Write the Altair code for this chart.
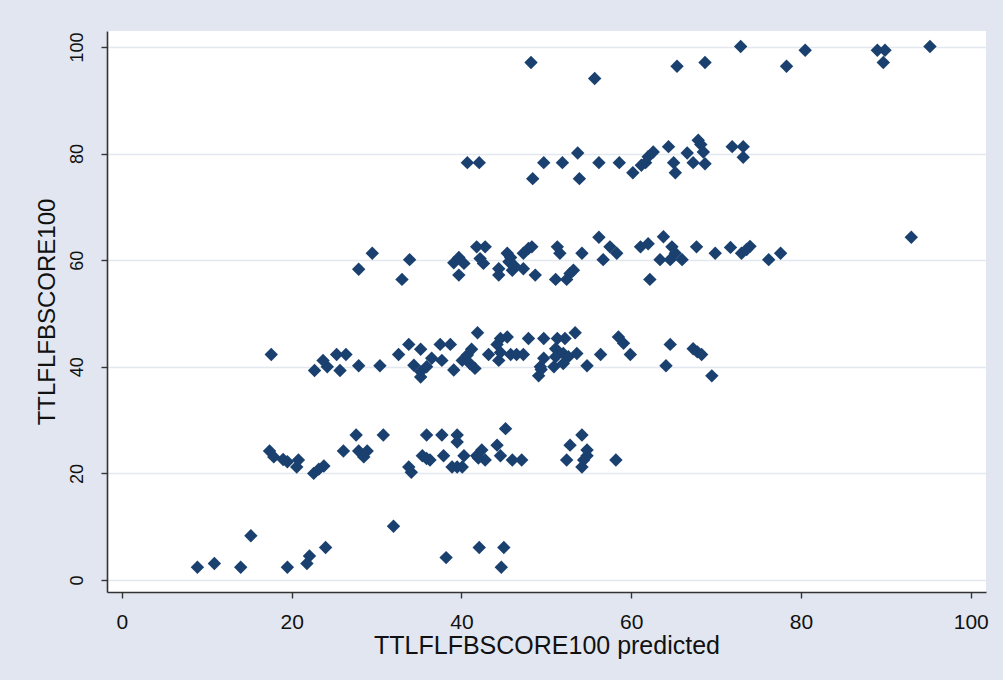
import altair as alt
import pandas as pd

# Predicted score (x) and observed score (y), grouped by score band
pred_low = [8.9, 10.9, 14.0, 15.2, 19.5, 21.8, 22.1, 24.0, 32.0, 38.2, 42.1, 45.0, 44.7]
obs_low = [2.4, 3.1, 2.4, 8.3, 2.4, 3.1, 4.5, 6.1, 10.1, 4.2, 6.1, 6.1, 2.4]

pred_20 = [17.4, 17.9, 19.0, 19.5, 20.8, 20.6, 22.6, 23.2, 23.8, 26.1, 27.6, 27.9, 28.5,
           28.9, 30.8, 33.8, 34.1, 35.4, 35.9, 35.9, 36.3, 37.7, 37.9, 39.5, 39.5, 38.9,
           39.5, 40.1, 40.3, 41.8, 42.0, 42.4, 42.8, 44.2, 45.2, 44.6, 46.0, 47.1, 52.4,
           52.8, 54.2, 54.8, 54.8, 54.4, 54.2, 58.2]
obs_20 = [24.2, 23.1, 22.6, 22.2, 22.5, 21.2, 20.0, 20.8, 21.4, 24.2, 27.2, 24.2, 23.1,
          24.2, 27.2, 21.2, 20.2, 23.3, 27.2, 22.8, 22.5, 27.2, 23.3, 27.2, 25.9, 21.2,
          21.2, 21.2, 23.3, 23.3, 22.9, 24.4, 22.5, 25.3, 28.4, 23.3, 22.5, 22.5, 22.5,
          25.3, 27.2, 24.4, 23.3, 22.5, 21.2, 22.5]

pred_40 = [17.6, 22.7, 23.7, 24.2, 25.3, 26.4, 25.7, 27.9, 30.4, 32.6, 33.8, 35.2, 34.4,
           35.2, 35.2, 35.9, 36.5, 37.5, 38.7, 37.7, 39.1, 40.1, 40.7, 41.2, 41.0, 41.6,
           41.9, 43.2, 44.2, 44.6, 45.4, 44.4, 44.6, 45.8, 46.5, 47.3, 47.9, 49.7, 51.3,
           52.2, 53.4, 49.7, 49.3, 49.1, 49.4, 51.1, 51.1, 52.0, 52.6, 53.6, 50.9, 52.0,
           54.8, 56.4, 58.5, 59.1, 59.9, 64.6, 64.1, 67.3, 67.8, 68.3, 69.5]
obs_40 = [42.3, 39.3, 41.2, 40.0, 42.3, 42.3, 39.3, 40.2, 40.2, 42.3, 44.2, 43.3, 40.3,
          39.1, 38.1, 40.0, 41.6, 44.2, 44.2, 41.2, 39.4, 41.2, 42.2, 43.3, 40.6, 39.7,
          46.4, 42.3, 44.2, 45.3, 45.6, 41.2, 42.7, 42.3, 42.3, 42.3, 45.3, 45.3, 45.3,
          45.3, 46.4, 41.6, 40.0, 38.3, 39.5, 43.4, 41.9, 42.5, 41.9, 42.5, 40.0, 40.6,
          40.2, 42.3, 45.6, 44.4, 42.3, 44.2, 40.2, 43.4, 42.8, 42.3, 38.3]

pred_60 = [27.9, 29.5, 33.0, 33.9, 39.1, 39.7, 40.3, 39.7, 41.8, 42.8, 42.2, 42.6, 44.4,
           44.4, 45.4, 45.6, 46.0, 45.8, 46.2, 47.3, 47.9, 48.3, 47.3, 48.7, 51.3, 51.6,
           51.1, 52.4, 52.8, 53.2, 54.2, 56.2, 56.7, 57.5, 58.3, 61.1, 62.0, 62.2, 63.8,
           63.4, 64.8, 65.2, 64.6, 66.0, 67.7, 69.9, 71.7, 73.0, 73.6, 74.0, 76.2, 77.6,
           93.0]
obs_60 = [58.3, 61.3, 56.4, 60.1, 59.5, 60.5, 59.4, 57.2, 62.5, 62.5, 60.3, 59.4, 58.4,
          57.2, 61.3, 59.7, 58.1, 60.5, 59.0, 61.3, 62.2, 62.5, 58.4, 57.2, 62.5, 61.3,
          56.4, 56.4, 57.5, 58.1, 61.3, 64.3, 60.1, 62.5, 61.3, 62.5, 63.1, 56.4, 64.4,
          60.1, 62.5, 61.3, 60.1, 60.1, 62.5, 61.3, 62.4, 61.3, 62.0, 62.6, 60.1, 61.3,
          64.3]

pred_80 = [40.7, 42.1, 48.4, 49.7, 51.9, 53.7, 53.9, 56.2, 58.6, 60.2, 61.2, 61.7, 62.0,
           62.6, 64.4, 65.0, 65.2, 66.6, 67.3, 67.9, 68.2, 68.5, 68.7, 71.9, 73.2, 73.2]
obs_80 = [78.3, 78.3, 75.3, 78.3, 78.3, 80.1, 75.3, 78.3, 78.3, 76.4, 77.8, 78.3, 79.4,
          80.3, 81.3, 78.3, 76.4, 80.1, 78.3, 82.5, 81.7, 80.3, 78.1, 81.3, 81.3, 79.3]

pred_top = [48.2, 55.7, 65.4, 68.7, 72.9, 78.3, 80.5, 89.0, 89.9, 89.7, 95.2]
obs_top = [97.1, 94.1, 96.4, 97.1, 100.1, 96.4, 99.4, 99.4, 99.4, 97.1, 100.1]

tick_values = [0, 20, 40, 60, 80, 100]

df = pd.DataFrame({
    "pred": pred_low + pred_20 + pred_40 + pred_60 + pred_80 + pred_top,
    "score": obs_low + obs_20 + obs_40 + obs_60 + obs_80 + obs_top,
})

FONT = "Liberation Sans"
NAVY = "#1a406f"

chart = (
    alt.Chart(df)
    .mark_point(shape="diamond", filled=True, size=180, color=NAVY, opacity=1)
    .encode(
        x=alt.X(
            "pred:Q",
            scale=alt.Scale(domain=[-1.75, 101.8], nice=False, zero=False),
            axis=alt.Axis(
                values=tick_values,
                grid=False,
                domainColor="#333333",
                domainWidth=1.6,
                tickColor="#333333",
                tickWidth=1.4,
                tickSize=6,
                labelFont=FONT,
                labelFontSize=21,
                labelColor="#111111",
                labelPadding=13,
                title="TTLFLFBSCORE100 predicted",
                titleFont=FONT,
                titleFontSize=25,
                titleFontWeight="normal",
                titleColor="#111111",
                titlePadding=1,
            ),
        ),
        y=alt.Y(
            "score:Q",
            scale=alt.Scale(domain=[-2.25, 103], nice=False, zero=False),
            axis=alt.Axis(
                values=tick_values,
                grid=True,
                gridColor="#e3e7f0",
                gridWidth=1.6,
                domainColor="#333333",
                domainWidth=1.6,
                tickColor="#333333",
                tickWidth=1.4,
                tickSize=6,
                labelFont=FONT,
                labelFontSize=18,
                labelColor="#111111",
                labelAngle=270,
                labelAlign="center",
                labelBaseline="bottom",
                labelPadding=15,
                title="TTLFLFBSCORE100",
                titleFont=FONT,
                titleFontSize=24,
                titleFontWeight="normal",
                titleColor="#111111",
                titlePadding=9,
            ),
        ),
    )
    .properties(
        width=879,
        height=561,
        autosize=alt.AutoSizeParams(type="none"),
        padding={"left": 107, "top": 31, "right": 17, "bottom": 88},
        background="#e1e6f0",
    )
    .configure_view(fill="white", strokeWidth=0)
)

chart.save("out.html", embed_options={"renderer": "svg", "actions": False})
